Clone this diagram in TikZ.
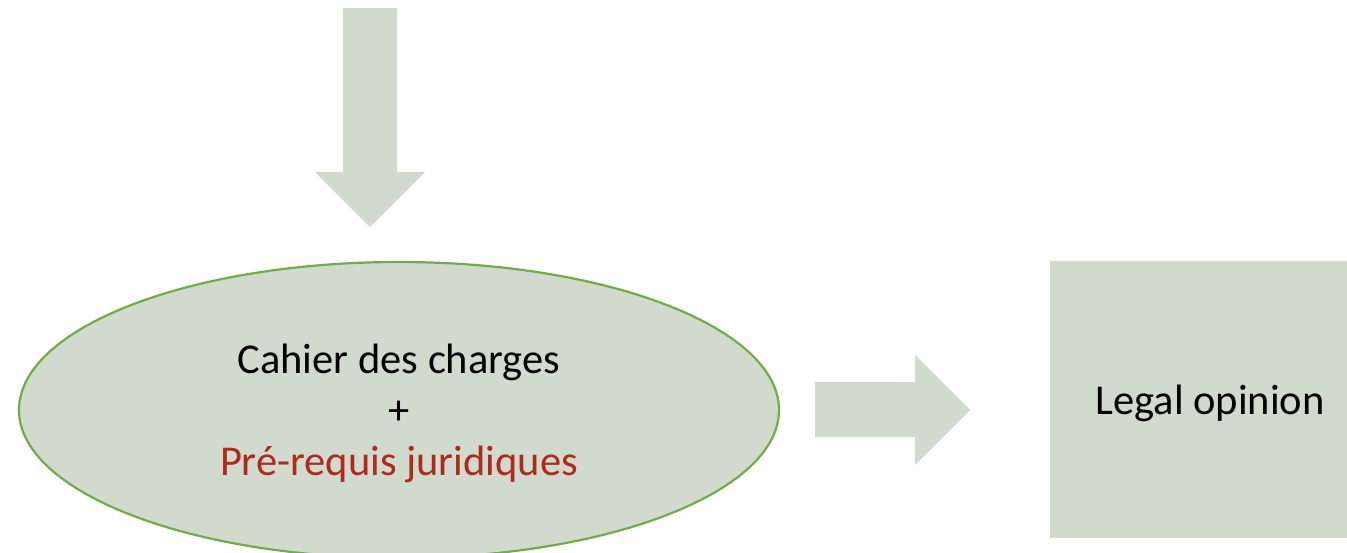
\documentclass[tikz,border=0pt]{standalone}
\usepackage{fontspec}
\setmainfont{Carlito}
\usetikzlibrary{shapes.geometric}
\definecolor{sage}{RGB}{208,219,206}
\definecolor{egreen}{RGB}{112,173,71}
\definecolor{dred}{RGB}{175,42,30}
\begin{document}
\begin{tikzpicture}[x=1pt,y=-1pt,
  blockarrow/.style={fill=sage,draw=none},
  txt/.style={font=\fontsize{42.5}{50}\selectfont,anchor=base,inner sep=0pt}]
\useasboundingbox (0,0) rectangle (1347,552);
% down block arrow
\fill[blockarrow] (343,8) -- (397,8) -- (397,172) -- (425,172) -- (370,227) -- (315,172) -- (343,172) -- cycle;
% ellipse
\node[ellipse,fill=sage,draw=egreen,line width=2.2pt,minimum width=760pt,minimum height=296pt,inner sep=0pt] (cdc) at (399,410) {};
\node[txt] (t1) at (399,373) {Cahier des charges};
\node[txt] (t2) at (399,424) {+};
\node[txt,text=dred] (t3) at (399,475) {Pré-requis juridiques};
% right block arrow
\fill[blockarrow] (815,382) -- (915,382) -- (915,355) -- (970,410) -- (915,465) -- (915,437) -- (815,437) -- cycle;
% box
\fill[sage] (1050,261) rectangle (1370,538);
\node[txt] (lo) at (1210,414) {Legal opinion};
\end{tikzpicture}
\end{document}
